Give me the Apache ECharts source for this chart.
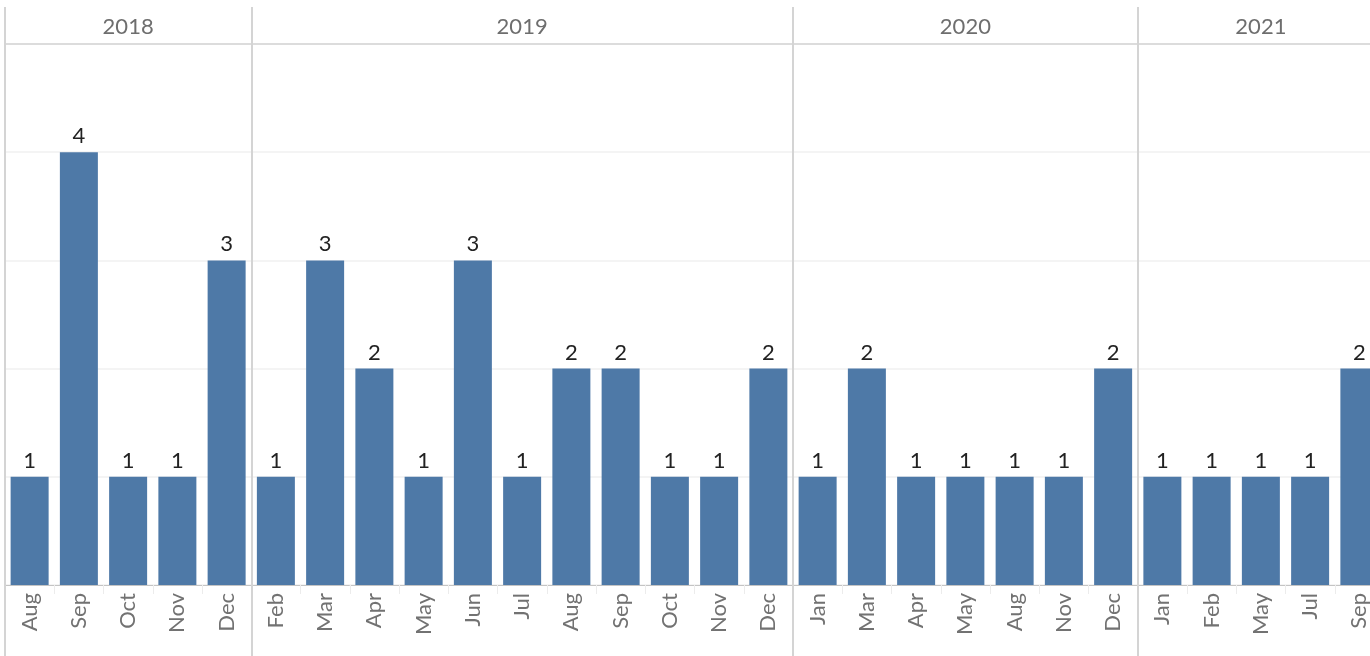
<!DOCTYPE html>
<html>
<head>
<meta charset="utf-8">
<script src="https://cdn.jsdelivr.net/npm/echarts@6/dist/echarts.min.js"></script>
<style>
html,body{margin:0;padding:0;overflow:hidden;background:#fff;}
#c{width:1400px;height:656px;}
</style>
</head>
<body>
<div id="c"></div>
<script>
const years = ['2018', '2019', '2020', '2021'];
const yearCounts = [5, 11, 7, 5];
const months = [
  'Aug','Sep','Oct','Nov','Dec',
  'Feb','Mar','Apr','May','Jun','Jul','Aug','Sep','Oct','Nov','Dec',
  'Jan','Mar','Apr','May','Aug','Nov','Dec',
  'Jan','Feb','May','Jul','Sep'
];
const values = [
  1,4,1,1,3,
  1,3,2,1,3,1,2,2,1,1,2,
  1,2,1,1,1,1,2,
  1,1,1,1,2
];

// derived: group boundaries and year header labels at group centres
const boundaries = [];
const yearLabels = new Array(months.length).fill('');
let start = 0;
yearCounts.forEach((n, i) => {
  boundaries.push(start);
  yearLabels[start + Math.floor(n / 2)] = years[i];
  start += n;
});
boundaries.push(start);
const isBoundary = (idx) => boundaries.indexOf(idx) >= 0;

const FONT = 'Lato';
const sepColor = '#d4d4d4';

const chart = echarts.init(document.getElementById('c'), null, {renderer: 'canvas'});
chart.setOption({
  animation: false,
  backgroundColor: '#fff',
  grid: {left: 5, top: 44, width: 1379, bottom: 71, containLabel: false},
  xAxis: [
    {
      type: 'category',
      position: 'bottom',
      data: months,
      boundaryGap: true,
      axisLine: {show: true, lineStyle: {color: '#c4c4c4', width: 1}},
      axisTick: {show: true, interval: 0, length: 9, lineStyle: {color: '#ececec', width: 1}},
      axisLabel: {interval: 0, rotate: 90, margin: 8, color: '#727272', fontSize: 22, fontFamily: FONT},
      splitLine: {show: true, interval: (i) => isBoundary(i), lineStyle: {color: sepColor, width: 2}}
    },
    {
      type: 'category',
      position: 'bottom',
      data: months,
      boundaryGap: true,
      axisLine: {show: false},
      axisTick: {show: true, interval: (i) => isBoundary(i), length: 71, lineStyle: {color: sepColor, width: 2}},
      axisLabel: {show: false},
      splitLine: {show: false}
    },
    {
      type: 'category',
      position: 'top',
      data: yearLabels,
      boundaryGap: true,
      axisLine: {show: true, lineStyle: {color: sepColor, width: 1.5}},
      axisTick: {show: true, interval: (i) => isBoundary(i), length: 37, lineStyle: {color: sepColor, width: 2}},
      axisLabel: {interval: 0, margin: 6, color: '#6e6e6e', fontSize: 22, fontFamily: FONT},
      splitLine: {show: false}
    }
  ],
  yAxis: {
    type: 'value',
    min: 0, max: 5, interval: 1,
    axisLine: {show: false},
    axisTick: {show: false},
    axisLabel: {show: false},
    splitLine: {show: true, lineStyle: {color: '#f0f0f0', width: 1.5}}
  },
  series: [{
    type: 'bar',
    xAxisIndex: 0,
    data: values,
    barWidth: 38,
    itemStyle: {color: '#4e79a7'},
    label: {show: true, position: 'top', distance: 5, color: '#222', fontSize: 22, fontFamily: FONT}
  }]
});
</script>
</body>
</html>
